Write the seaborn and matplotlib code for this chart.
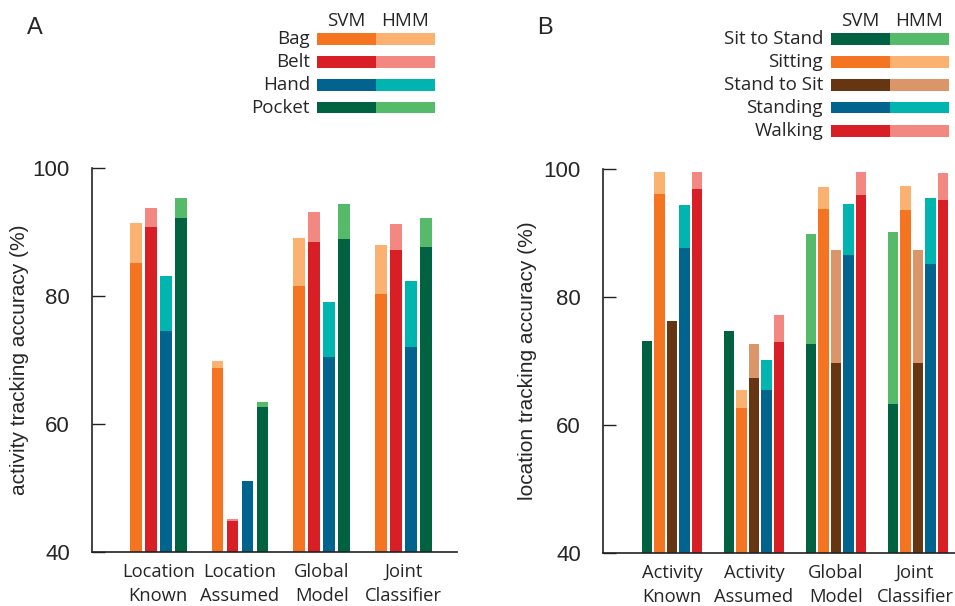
import matplotlib
matplotlib.use("Agg")
import matplotlib.pyplot as plt
import matplotlib.transforms as mtransforms
from matplotlib.patches import Rectangle
import seaborn as sns
import pandas as pd

# ---------------- data ----------------
groups_A = ["Location\nKnown", "Location\nAssumed", "Global\nModel", "Joint\nClassifier"]
locations = ["Bag", "Belt", "Hand", "Pocket"]
svm_bag = [85.1, 68.8, 81.5, 80.3]
svm_belt = [90.8, 44.8, 88.5, 87.2]
svm_hand = [74.6, 51.1, 70.5, 72.0]
svm_pocket = [92.2, 62.6, 88.9, 87.7]
hmm_bag = [91.4, 69.8, 89.1, 88.0]
hmm_belt = [93.7, 45.2, 93.2, 91.3]
hmm_hand = [83.2, 51.1, 79.0, 82.4]
hmm_pocket = [95.3, 63.4, 94.4, 92.2]

groups_B = ["Activity\nKnown", "Activity\nAssumed", "Global\nModel", "Joint\nClassifier"]
activities = ["Sit to Stand", "Sitting", "Stand to Sit", "Standing", "Walking"]
svm_sit_to_stand = [73.2, 74.7, 72.7, 63.3]
svm_sitting = [96.1, 62.6, 93.8, 93.6]
svm_stand_to_sit = [76.3, 67.4, 69.7, 69.7]
svm_standing = [87.6, 65.5, 86.5, 85.1]
svm_walking = [96.9, 73.0, 96.0, 95.1]
hmm_sit_to_stand = [73.2, 74.7, 89.9, 90.2]
hmm_sitting = [99.6, 65.5, 97.2, 97.4]
hmm_stand_to_sit = [76.3, 72.7, 87.4, 87.4]
hmm_standing = [94.4, 70.1, 94.6, 95.4]
hmm_walking = [99.6, 77.2, 99.6, 99.3]

yticks = [40, 60, 80, 100]

# ---------------- colours ----------------
C = {
    "orange": ("#F47421", "#FBB271"),
    "red": ("#D81F26", "#F38883"),
    "blue": ("#00648F", "#00B4AF"),
    "green": ("#006241", "#55BA69"),
    "brown": ("#663613", "#DA9669"),
}
colA = [C["orange"], C["red"], C["blue"], C["green"]]
colB = [C["green"], C["orange"], C["brown"], C["blue"], C["red"]]

dfA = pd.DataFrame({
    "group": [g for _ in locations for g in groups_A],
    "cat": [l for l in locations for _ in groups_A],
    "svm": svm_bag + svm_belt + svm_hand + svm_pocket,
    "hmm": hmm_bag + hmm_belt + hmm_hand + hmm_pocket,
})
dfB = pd.DataFrame({
    "group": [g for _ in activities for g in groups_B],
    "cat": [a for a in activities for _ in groups_B],
    "svm": svm_sit_to_stand + svm_sitting + svm_stand_to_sit + svm_standing + svm_walking,
    "hmm": hmm_sit_to_stand + hmm_sitting + hmm_stand_to_sit + hmm_standing + hmm_walking,
})

sns.set_style("ticks")
plt.rcParams["font.family"] = ["Liberation Sans", "DejaVu Sans"]
CAT_FONT = ["Open Sans", "DejaVu Sans"]

W, H = 955, 606
fig = plt.figure(figsize=(W / 100, H / 100), dpi=100)


def fx(x):
    return x / W


def fy(y):
    return 1 - y / H


def panel(rect_px, df, cats, cols, groups, width, gap, xlim, ylabel):
    x0, y0, x1, y1 = rect_px
    ax = fig.add_axes([fx(x0), fy(y1), fx(x1 - x0), (y1 - y0) / H])
    hmm_pal = {c: col[1] for c, col in zip(cats, cols)}
    svm_pal = {c: col[0] for c, col in zip(cats, cols)}
    sns.barplot(data=df, x="group", y="hmm", hue="cat", hue_order=cats, order=groups,
                palette=hmm_pal, width=width, gap=gap, saturation=1, errorbar=None,
                linewidth=0, legend=False, ax=ax)
    sns.barplot(data=df, x="group", y="svm", hue="cat", hue_order=cats, order=groups,
                palette=svm_pal, width=width, gap=gap, saturation=1, errorbar=None,
                linewidth=0, legend=False, ax=ax)
    ax.set_ylim(40, 100)
    ax.set_xlim(*xlim)
    ax.set_yticks(yticks)
    ax.set_yticklabels([str(v) for v in yticks], fontsize=16)
    ax.tick_params(axis="y", direction="in", length=9.5, width=1, pad=16, color="#222222")
    ax.tick_params(axis="x", length=0, pad=8)
    ax.set_xticks(range(len(groups)))
    ax.set_xticklabels(groups, fontsize=13.2, family=CAT_FONT, linespacing=1.45)
    ax.set_xlabel("")
    ax.set_ylabel(ylabel, fontsize=15)
    for s in ["top", "right"]:
        ax.spines[s].set_visible(False)
    for s in ["left", "bottom"]:
        ax.spines[s].set_linewidth(1.2)
        ax.spines[s].set_color("#222222")
    ax.patch.set_alpha(0)
    return ax


axA = panel((92, 168, 457, 552), dfA, locations, colA, groups_A, 0.735, 0.22,
            (-0.811, 3.656), "activity tracking accuracy (%)")
axB = panel((603, 169, 955, 553), dfB, activities, colB, groups_B, 0.76, 0.16,
            (-0.841, 3.45), "location tracking accuracy (%)")
axA.yaxis.set_label_coords((29 - 92) / (457 - 92), 0.5)
axB.yaxis.set_label_coords((537 - 603) / (955 - 603), 0.5)

# keep the last category label of panel B inside the figure edge
last = axB.get_xticklabels()[-1]
last.set_transform(last.get_transform() +
                   mtransforms.ScaledTranslation(-3 / 100, 0, fig.dpi_scale_trans))


def legend(names, cols, x_lab, x_svm, x_mid, x_end, rows, head_y):
    fig.text(fx((x_svm + x_mid) / 2), fy(head_y), "SVM", ha="center", va="center",
             fontsize=13.5, family=CAT_FONT)
    fig.text(fx((x_mid + x_end) / 2), fy(head_y), "HMM", ha="center", va="center",
             fontsize=13.5, family=CAT_FONT)
    for name, col, yr in zip(names, cols, rows):
        fig.text(fx(x_lab), fy(yr), name, ha="right", va="center", fontsize=13.5,
                 family=CAT_FONT)
        hh = 11
        fig.add_artist(Rectangle((fx(x_svm), fy(yr + hh / 2)), fx(x_mid - x_svm), hh / H,
                                 transform=fig.transFigure, color=col[0], lw=0))
        fig.add_artist(Rectangle((fx(x_mid), fy(yr + hh / 2)), fx(x_end - x_mid), hh / H,
                                 transform=fig.transFigure, color=col[1], lw=0))


legend(locations, colA, 310, 317, 376, 435, [39, 62, 85, 107.7], 21)
legend(activities, colB, 823, 831, 890, 949, [39, 62, 85, 107.7, 131], 21)

fig.text(fx(35), fy(28), "A", ha="center", va="center", fontsize=17)
fig.text(fx(545), fy(28), "B", ha="center", va="center", fontsize=17)

fig.savefig("out.png", dpi=100)
